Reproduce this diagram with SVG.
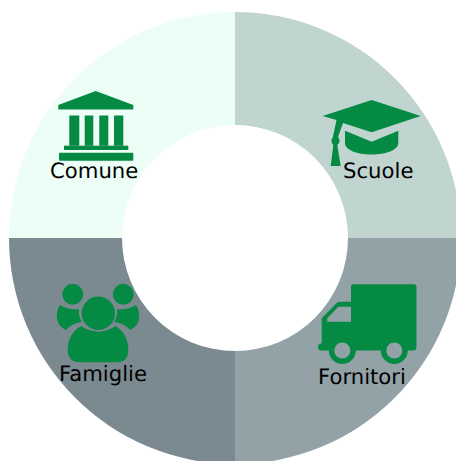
<svg xmlns="http://www.w3.org/2000/svg" width="456" height="461" viewBox="0 0 456 461">
<style>
.g{fill:#058a44}
text{font-family:"DejaVu Sans",sans-serif;font-size:21.200px;fill:#000;text-rendering:geometricPrecision}
</style>
<rect width="456" height="461" fill="#fff"/>
<g id="segments">
<path d="M235 12A226 226 0 0 0 9 238H122A113 113 0 0 1 235 125Z" fill="#ecfef6"/>
<path d="M235 12A226 226 0 0 1 461 238H348A113 113 0 0 0 235 125Z" fill="#c0d4d0"/>
<path d="M461 238A226 226 0 0 1 235 464V351A113 113 0 0 0 348 238Z" fill="#93a2a6"/>
<path d="M235 464A226 226 0 0 1 9 238H122A113 113 0 0 0 235 351Z" fill="#7b8a90"/>
</g>
<g id="comune">
<path class="g" d="M95.700 91L133.300 105V109.500H58.300V105Z"/>
<path class="g" d="M69.300 115.500H79.300V145.700H69.300ZM84.700 115.500H93.300V145.700H84.700ZM99.300 115.500H108.300V145.700H99.300ZM114 115.500H123.300V145.700H114Z"/>
<rect class="g" x="64" y="145.700" width="64.300" height="4.300"/>
<rect class="g" x="59" y="152.700" width="74.300" height="8" rx="1"/>
<text x="50" y="178">Comune</text>
</g>
<g id="scuole">
<path class="g" d="M371.700 100L420.700 116L371.700 132.300L343 123L338 137A5.200 5.200 0 0 1 337.300 145L340.700 166H330.700L333.300 145A5.200 5.200 0 0 1 332.800 137.500L336.500 120L322.700 116Z"/>
<path class="g" d="M345 130.700L371.700 141.700L398.300 130.700V143C398.300 150 386 154.500 371.700 154.500C357 154.500 345 150 345 143Z"/>
<text x="343" y="177.500">Scuole</text>
</g>
<g id="famiglie">
<circle class="g" cx="98.300" cy="313.300" r="16.700"/>
<circle class="g" cx="72.700" cy="294.300" r="10.500"/>
<circle class="g" cx="123.300" cy="294.300" r="10.500"/>
<path class="g" d="M81 326Q90 331.700 98.300 331.700Q107 331.700 115.600 326Q128.300 334 128.300 350Q128.300 362.300 117 362.300H80Q67.700 362.300 67.700 350Q67.700 334 81 326Z"/>
<path class="g" d="M60 305Q67 309.500 79 309.500A20 20 0 0 0 81.700 322Q72 323 66 330Q57 326 56.700 316Q57 309 60 305Z"/>
<path class="g" d="M136 305Q129 309.500 117 309.500A20 20 0 0 1 114.300 322Q124 323 130 330Q139 326 139.300 316Q139 309 136 305Z"/>
<text x="59" y="380.500">Famiglie</text>
</g>
<g id="fornitori">
<path class="g" fill-rule="evenodd" d="M353 284.300H414Q416.500 284.300 416.500 286.300V347Q416.500 350.500 413 350.500H407.800A13.500 13.500 0 0 1 380.800 350.500H355.800A13.500 13.500 0 0 1 328.800 350.500H321.500A3.500 3.500 0 0 1 321.500 343.500H321.700V318.300L336.700 303Q338 301.700 341 301.700H351V286.300Q351 284.300 353 284.300ZM351 306.700H338.300L327.300 318.300V321.700H351ZM350.300 350.500A8 8 0 1 0 334.300 350.500A8 8 0 1 0 350.300 350.500ZM402.300 350.500A8 8 0 1 0 386.300 350.500A8 8 0 1 0 402.300 350.500Z"/>
<text x="318" y="383.500">Fornitori</text>
</g>
</svg>
